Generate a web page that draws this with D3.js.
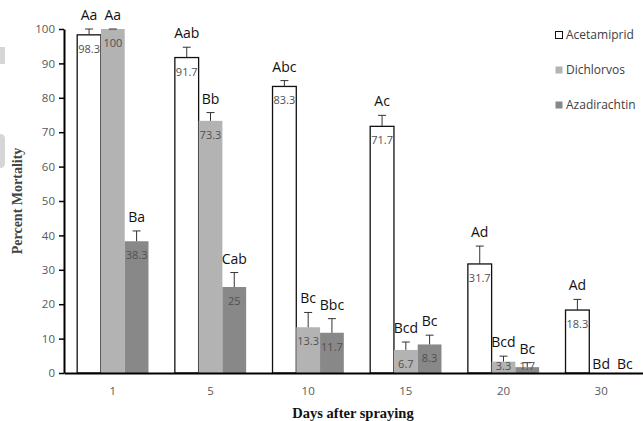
<!DOCTYPE html>
<html>
<head>
<meta charset="utf-8">
<script src="https://cdn.jsdelivr.net/npm/d3@7"></script>
<style>
  body { margin: 0; background: #fff; }
  svg { display: block; }
</style>
</head>
<body>
<div id="chart"></div>
<script>
var width = 643, height = 421;

// data
var days = ["1", "5", "10", "15", "20", "30"];
var series = ["Acetamiprid", "Dichlorvos", "Azadirachtin"];
var acetamiprid = [98.3, 91.7, 83.3, 71.7, 31.7, 18.3];
var dichlorvos = [100, 73.3, 13.3, 6.7, 3.3, 0];
var azadirachtin = [38.3, 25, 11.7, 8.3, 1.7, 0];
var errAcetamiprid = [1.7, 3.0, 1.7, 3.2, 5.2, 3.1];
var errDichlorvos = [0, 2.4, 4.3, 2.3, 1.6, 0];
var errAzadirachtin = [3.0, 4.2, 4.1, 2.7, 1.3, 0];
var letAcetamiprid = ["Aa", "Aab", "Abc", "Ac", "Ad", "Ad"];
var letDichlorvos = ["Aa", "Bb", "Bc", "Bcd", "Bcd", "Bd"];
var letAzadirachtin = ["Ba", "Cab", "Bbc", "Bc", "Bc", "Bc"];
var yTicks = [0, 10, 20, 30, 40, 50, 60, 70, 80, 90, 100];

var fills = {Acetamiprid: "#ffffff", Dichlorvos: "#b3b3b3", Azadirachtin: "#888888"};

var table = [];
days.forEach(function(d, i){
  table.push({day: d, s: "Acetamiprid", v: acetamiprid[i], e: errAcetamiprid[i], l: letAcetamiprid[i]});
  table.push({day: d, s: "Dichlorvos", v: dichlorvos[i], e: errDichlorvos[i], l: letDichlorvos[i]});
  table.push({day: d, s: "Azadirachtin", v: azadirachtin[i], e: errAzadirachtin[i], l: letAzadirachtin[i]});
});

var svg = d3.select('#chart')
  .append('svg')
  .attr('width', width)
  .attr('height', height);

// faint scan marks at the left edge
svg.append('path')
  .attr('d', 'M0,47 L5,47 L5,64 L0,64 Z M0,134 Q5,134 5,139 L5,163 Q5,168 0,168 Z')
  .attr('fill', '#d6d6d6');

var x = d3.scaleBand()
  .domain(days)
  .range([64, 650])
  .paddingInner(0.27)
  .paddingOuter(0.135);

var xSub = d3.scaleBand()
  .domain(series)
  .range([0, x.bandwidth()]);

var y = d3.scaleLinear()
  .domain([0, 100])
  .range([373, 29]);

// bars
svg.selectAll('rect.bar')
  .data(table.filter(function(d){ return d.v > 0; }))
  .enter()
  .append('rect')
  .attr('class', 'bar')
  .attr('x', function(d){ return x(d.day) + xSub(d.s); })
  .attr('y', function(d){ return y(d.v); })
  .attr('width', xSub.bandwidth())
  .attr('height', function(d){ return y(0) - y(d.v); })
  .attr('fill', function(d){ return fills[d.s]; })
  .attr('stroke', function(d){ return d.s == "Acetamiprid" ? "#111" : "none"; })
  .attr('stroke-width', 1.3);

// error bars
var eb = svg.selectAll('g.err')
  .data(table.filter(function(d){ return d.v > 0; }))
  .enter()
  .append('g')
  .attr('class', 'err')
  .attr('stroke', '#333')
  .attr('stroke-width', 1);

eb.append('line')
  .attr('x1', function(d){ return x(d.day) + xSub(d.s) + xSub.bandwidth()/2; })
  .attr('x2', function(d){ return x(d.day) + xSub(d.s) + xSub.bandwidth()/2; })
  .attr('y1', function(d){ return y(d.v); })
  .attr('y2', function(d){ return y(d.v + d.e); });

eb.append('line')
  .attr('x1', function(d){ return x(d.day) + xSub(d.s) + xSub.bandwidth()/2 - 4; })
  .attr('x2', function(d){ return x(d.day) + xSub(d.s) + xSub.bandwidth()/2 + 4; })
  .attr('y1', function(d){ return y(d.v + d.e); })
  .attr('y2', function(d){ return y(d.v + d.e); });

// value labels inside bars
svg.selectAll('text.val')
  .data(table.filter(function(d){ return d.v > 0; }))
  .enter()
  .append('text')
  .attr('class', 'val')
  .attr('x', function(d){ return x(d.day) + xSub(d.s) + xSub.bandwidth()/2; })
  .attr('y', function(d){ return Math.min(y(d.v) + 18, 370); })
  .attr('text-anchor', 'middle')
  .attr('font-family', 'Open Sans, sans-serif')
  .attr('font-size', 11)
  .attr('fill', '#505050')
  .text(function(d){ return d.v; });

// significance letters
svg.selectAll('text.let')
  .data(table)
  .enter()
  .append('text')
  .attr('class', 'let')
  .attr('x', function(d){ return x(d.day) + xSub(d.s) + xSub.bandwidth()/2; })
  .attr('y', function(d){ return d.v > 0 ? y(d.v + d.e) - 9 : y(0) - 4; })
  .attr('text-anchor', 'middle')
  .attr('font-family', 'Open Sans, sans-serif')
  .attr('font-size', 14)
  .attr('fill', '#111')
  .text(function(d){ return d.l; });

// y axis
var yAxis = svg.append('g')
  .attr('transform', 'translate(64,0)')
  .call(d3.axisLeft(y).tickValues(yTicks).tickSize(5).tickSizeOuter(0));
yAxis.select('.domain').attr('stroke', '#000').attr('stroke-width', 2);
yAxis.selectAll('.tick line').attr('stroke', '#000').attr('stroke-width', 1.5);
yAxis.selectAll('.tick text')
  .attr('font-family', 'Open Sans, sans-serif')
  .attr('font-size', 11.5)
  .attr('fill', '#595959')
  .attr('x', -9);

// x axis
var xAxis = svg.append('g')
  .attr('transform', 'translate(0,373)')
  .call(d3.axisBottom(x).tickSize(0).tickSizeOuter(0));
xAxis.select('.domain').attr('stroke', '#000').attr('stroke-width', 2);
xAxis.selectAll('.tick text')
  .attr('font-family', 'Open Sans, sans-serif')
  .attr('font-size', 11.5)
  .attr('fill', '#595959')
  .attr('y', 14);

// axis titles
svg.append('text')
  .attr('transform', 'translate(22,201) rotate(-90)')
  .attr('text-anchor', 'middle')
  .attr('font-family', 'Liberation Serif, serif')
  .attr('font-weight', 'bold')
  .attr('font-size', 14)
  .attr('fill', '#444')
  .text('Percent Mortality');

svg.append('text')
  .attr('x', 353)
  .attr('y', 418)
  .attr('text-anchor', 'middle')
  .attr('font-family', 'Liberation Serif, serif')
  .attr('font-weight', 'bold')
  .attr('font-size', 14.5)
  .attr('fill', '#111')
  .text('Days after spraying');

// legend
var legend = svg.selectAll('g.leg')
  .data(series)
  .enter()
  .append('g')
  .attr('class', 'leg')
  .attr('transform', function(d, i){ return 'translate(555,' + (35 + i*35) + ')'; });

legend.append('rect')
  .attr('x', 0.5)
  .attr('y', -3.5)
  .attr('width', 7)
  .attr('height', 7)
  .attr('fill', function(d){ return fills[d]; })
  .attr('stroke', function(d){ return d == "Acetamiprid" ? "#111" : "none"; });

legend.append('text')
  .attr('x', 11)
  .attr('y', 4)
  .attr('font-family', 'Open Sans, sans-serif')
  .attr('font-size', 12)
  .attr('fill', '#404040')
  .text(function(d){ return d; });
</script>
</body>
</html>
